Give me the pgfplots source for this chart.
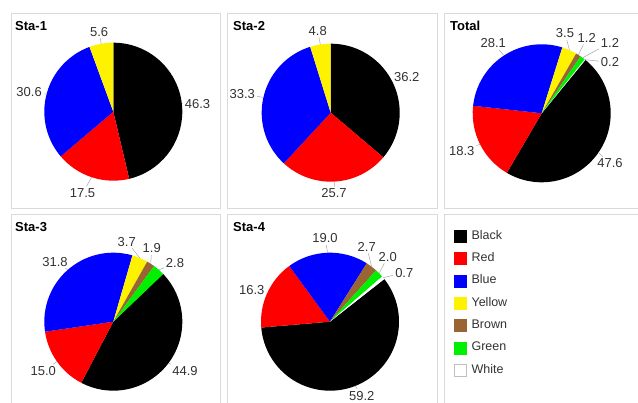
\documentclass[border=0pt]{standalone}
\usepackage{pgfplots}
\pgfplotsset{compat=1.18}
\usepackage{pgfplotstable}
\usetikzlibrary{calc}
\usepackage{fontspec}
\setmainfont{Liberation Sans}

\definecolor{pbrown}{RGB}{153,102,51}
\definecolor{pgreen}{RGB}{0,240,0}
\definecolor{framec}{RGB}{218,218,218}
\definecolor{txt}{RGB}{50,50,50}

% share (%), colour, label position (pt from the pie centre)
\pgfplotstableread{
val col lx ly
46.3 black 84.2 7.7
17.5 red -30.8 -81
30.6 blue -84.2 20
5.6 yellow -14.2 80
}\staA
\pgfplotstableread{
val col lx ly
36.2 black 76 35.4
25.7 red 3.3 -80.6
33.3 blue -88.4 18.7
4.8 yellow -13 82
}\staB
\pgfplotstableread{
val col lx ly
47.6 black 68.3 -50
18.3 red -80 -37.7
28.1 blue -48.4 70
3.5 yellow 23.3 80
1.2 pbrown 45 75.6
1.2 pgreen 68.3 70.6
0.2 white 68.3 51
}\total
\pgfplotstableread{
val col lx ly
44.9 black 71.7 -49
15.0 red -70 -49
31.8 blue -58.3 60
3.7 yellow 13.4 80
1.9 pbrown 38.4 73.4
2.8 pgreen 61.7 58.4
}\staC
\pgfplotstableread{
val col lx ly
59.2 black 31.7 -74
16.3 red -78.3 31.7
19.0 blue -5 83.4
2.7 pbrown 36.7 75
2.0 pgreen 57.7 65
0.7 white 74.3 49
}\staD

\def\pieR{69pt}
% #1 table, #2 angle where the first slice starts; slices run clockwise
\newcommand\piechart[2]{%
  \pgfplotstablegetrowsof{#1}%
  \pgfmathtruncatemacro\lastrow{\pgfplotsretval-1}%
  \pgfmathsetmacro\angA{#2}%
  \pgfplotsforeachungrouped \i in {0,...,\lastrow}{%
    \pgfplotstablegetelem{\i}{val}\of{#1}\let\v\pgfplotsretval
    \pgfplotstablegetelem{\i}{col}\of{#1}\let\c\pgfplotsretval
    \pgfplotstablegetelem{\i}{lx}\of{#1}\let\lx\pgfplotsretval
    \pgfplotstablegetelem{\i}{ly}\of{#1}\let\ly\pgfplotsretval
    \pgfmathsetmacro\angB{\angA-3.6*\v}%
    \pgfmathsetmacro\angM{(\angA+\angB)/2}%
    \fill[\c] (axis cs:0,0) -- ++(\angA:\pieR)
      arc[start angle=\angA, end angle=\angB, radius=\pieR] -- cycle;
    \node[lbl] (L) at ($(axis cs:0,0)+(\lx pt,\ly pt)$) {\v};
    \draw[black!35, line width=0.5pt, shorten >=0.5pt]
      ($(axis cs:0,0)+(\angM:\pieR)$) -- (L);
    \let\angA\angB
  }%
}

\pgfplotsset{
  pie axis/.style={hide axis, scale only axis, width=138pt, height=138pt,
    xmin=-1, xmax=1, ymin=-1, ymax=1, anchor=center, clip=false},
}

\begin{document}
\begin{tikzpicture}[x=1pt, y=1pt, font=\fontsize{13}{15}\selectfont,
  lbl/.style={text=txt, inner sep=1.5pt}]
\useasboundingbox (0,0) rectangle (638,403);

% panel frames
\foreach \xa/\xb in {11/220, 227/437, 444/650} {
  \draw[framec, line width=0.8pt] (\xa,390) rectangle (\xb,195);
  \draw[framec, line width=0.8pt] (\xa,189) rectangle (\xb,-17);
}

% titles
\node[anchor=base west, font=\fontsize{13}{15}\selectfont\bfseries, inner sep=0pt] at (15,372.3) {Sta-1};
\node[anchor=base west, font=\fontsize{13}{15}\selectfont\bfseries, inner sep=0pt] at (233,372.3) {Sta-2};
\node[anchor=base west, font=\fontsize{13}{15}\selectfont\bfseries, inner sep=0pt] at (450,372.3) {Total};
\node[anchor=base west, font=\fontsize{13}{15}\selectfont\bfseries, inner sep=0pt] at (15,171.3) {Sta-3};
\node[anchor=base west, font=\fontsize{13}{15}\selectfont\bfseries, inner sep=0pt] at (233,171.3) {Sta-4};

\begin{axis}[pie axis, at={(113.3pt,291.3pt)}]
\pgfplotsextra{\piechart{\staA}{90}}
\end{axis}

\begin{axis}[pie axis, at={(330.7pt,290.3pt)}]
\pgfplotsextra{\piechart{\staB}{90}}
\end{axis}

\begin{axis}[pie axis, at={(541.7pt,289.7pt)}]
\pgfplotsextra{\piechart{\total}{51}}
\end{axis}

\begin{axis}[pie axis, at={(113.3pt,81.3pt)}]
\pgfplotsextra{\piechart{\staC}{44}}
\end{axis}

\begin{axis}[pie axis, at={(330pt,81.3pt)}]
\pgfplotsextra{\piechart{\staD}{38}}
\end{axis}

% legend panel
\begin{axis}[hide axis, scale only axis, width=194pt, height=190pt,
  xmin=0, xmax=1, ymin=0, ymax=1, at={(444pt,0pt)}, anchor=south west,
  legend cell align=left,
  legend image code/.code={\draw[#1] (0pt,-6pt) rectangle (12pt,6pt);},
  legend style={draw=none, fill=none, at={(0.0515,0.921)}, anchor=north west,
    inner sep=0pt, row sep=6.3pt, column sep=3pt,
    font=\fontsize{12.5}{15}\selectfont, text=txt,
    nodes={inner sep=2pt, text height=9pt, text depth=3pt}}]
\addlegendimage{fill=black, draw=black}
\addlegendentry{Black}
\addlegendimage{fill=red, draw=red}
\addlegendentry{Red}
\addlegendimage{fill=blue, draw=blue}
\addlegendentry{Blue}
\addlegendimage{fill=yellow, draw=yellow}
\addlegendentry{Yellow}
\addlegendimage{fill=pbrown, draw=pbrown}
\addlegendentry{Brown}
\addlegendimage{fill=pgreen, draw=pgreen}
\addlegendentry{Green}
\addlegendimage{fill=white, draw=black!25}
\addlegendentry{White}
\end{axis}
\end{tikzpicture}
\end{document}
